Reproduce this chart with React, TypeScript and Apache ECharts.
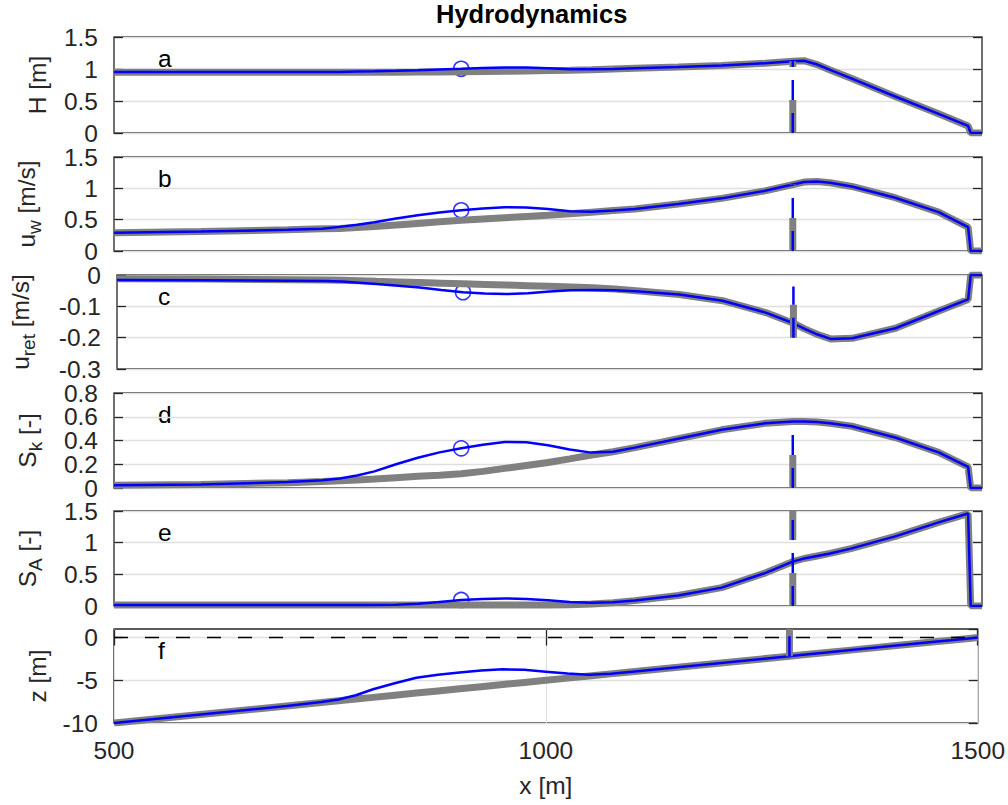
import React, { useEffect, useRef } from 'react';
import * as echarts from 'echarts';

// cross-shore positions [m]
const X = [500, 600, 700, 740, 760, 780, 800, 825, 850, 875, 900, 925, 950, 975, 1000, 1025, 1050, 1075, 1100, 1150, 1200, 1250, 1282, 1295, 1310, 1325, 1350, 1400, 1450, 1484, 1487, 1500];

// a: wave height H [m]
const H_ref = [0.95, 0.95, 0.95, 0.95, 0.95, 0.95, 0.95, 0.95, 0.952, 0.955, 0.957, 0.96, 0.963, 0.968, 0.975, 0.982, 0.99, 1.0, 1.01, 1.03, 1.055, 1.09, 1.12, 1.13, 1.07, 0.985, 0.85, 0.57, 0.3, 0.11, 0, 0];
const H_sim = [0.955, 0.955, 0.955, 0.955, 0.955, 0.96, 0.965, 0.972, 0.982, 0.993, 1.003, 1.015, 1.025, 1.022, 1.01, 0.998, 0.995, 1.0, 1.01, 1.03, 1.055, 1.09, 1.12, 1.13, 1.07, 0.985, 0.85, 0.57, 0.3, 0.11, 0, 0];
// b: orbital velocity u_w [m/s]
const UW_ref = [0.29, 0.31, 0.34, 0.355, 0.36, 0.375, 0.39, 0.415, 0.44, 0.465, 0.49, 0.51, 0.53, 0.55, 0.57, 0.595, 0.62, 0.645, 0.67, 0.75, 0.84, 0.96, 1.06, 1.1, 1.11, 1.09, 1.03, 0.85, 0.62, 0.38, 0, 0];
const UW_sim = [0.29, 0.31, 0.34, 0.355, 0.385, 0.42, 0.46, 0.52, 0.57, 0.615, 0.65, 0.68, 0.7, 0.695, 0.67, 0.635, 0.625, 0.645, 0.67, 0.75, 0.84, 0.96, 1.06, 1.1, 1.11, 1.09, 1.03, 0.85, 0.62, 0.38, 0, 0];
// c: return flow u_ret [m/s]
const UR_ref = [-0.012, -0.013, -0.015, -0.016, -0.017, -0.018, -0.02, -0.022, -0.024, -0.026, -0.028, -0.03, -0.032, -0.034, -0.036, -0.038, -0.041, -0.045, -0.05, -0.062, -0.082, -0.12, -0.154, -0.172, -0.19, -0.204, -0.202, -0.17, -0.115, -0.078, 0, 0];
const UR_sim = [-0.016, -0.017, -0.018, -0.019, -0.021, -0.025, -0.029, -0.034, -0.04, -0.048, -0.055, -0.059, -0.061, -0.058, -0.053, -0.049, -0.048, -0.049, -0.052, -0.062, -0.082, -0.12, -0.154, -0.172, -0.19, -0.204, -0.202, -0.17, -0.115, -0.078, 0, 0];
// d: skewness S_k [-]
const SK_ref = [0.023, 0.03, 0.045, 0.055, 0.062, 0.068, 0.075, 0.087, 0.098, 0.108, 0.12, 0.14, 0.165, 0.19, 0.215, 0.245, 0.278, 0.305, 0.34, 0.415, 0.49, 0.545, 0.56, 0.56, 0.555, 0.545, 0.52, 0.425, 0.3, 0.178, 0, 0];
const SK_sim = [0.023, 0.03, 0.05, 0.065, 0.08, 0.105, 0.14, 0.2, 0.255, 0.3, 0.334, 0.365, 0.388, 0.385, 0.36, 0.325, 0.298, 0.305, 0.34, 0.415, 0.49, 0.545, 0.56, 0.56, 0.555, 0.545, 0.52, 0.425, 0.3, 0.178, 0, 0];
// e: asymmetry S_A [-]
const SA_ref = [0.015, 0.015, 0.015, 0.015, 0.015, 0.015, 0.015, 0.015, 0.015, 0.015, 0.015, 0.015, 0.015, 0.015, 0.015, 0.02, 0.03, 0.05, 0.085, 0.165, 0.29, 0.52, 0.7, 0.75, 0.79, 0.83, 0.91, 1.1, 1.32, 1.46, 0, 0];
const SA_sim = [0.016, 0.016, 0.016, 0.016, 0.016, 0.016, 0.016, 0.02, 0.035, 0.065, 0.095, 0.112, 0.12, 0.112, 0.09, 0.065, 0.052, 0.06, 0.088, 0.165, 0.29, 0.52, 0.7, 0.75, 0.79, 0.83, 0.91, 1.1, 1.32, 1.46, 0, 0];
// f: bed level z [m]
const Z_ref = [-10, -9, -8, -7.6, -7.4, -7.2, -7, -6.75, -6.5, -6.25, -6, -5.75, -5.5, -5.25, -5, -4.75, -4.5, -4.25, -4, -3.5, -3, -2.5, -2.18, -2.05, -1.9, -1.75, -1.5, -1, -0.5, -0.16, -0.13, 0];
const Z_sim = [-10, -9, -8, -7.55, -7.25, -6.75, -6.05, -5.35, -4.7, -4.35, -4.1, -3.85, -3.72, -3.78, -4.0, -4.22, -4.35, -4.25, -4, -3.5, -3, -2.5, -2.18, -2.05, -1.9, -1.75, -1.5, -1, -0.5, -0.16, -0.13, 0];

const REF = [H_ref, UW_ref, UR_ref, SK_ref, SA_ref, Z_ref];
const SIM = [H_sim, UW_sim, UR_sim, SK_sim, SA_sim, Z_sim];

// marker (circle) on the simulated curve
const MARK_X = 900;
const MARK_Y = [1.003, 0.65, -0.055, 0.334, 0.095];
// vertical dashed marker
const BAR_X = 1282;
const BAR_LO = [0, 0, -0.2, 0, 0, -2.18];
const BAR_HI = [1.12, 1.06, -0.037, 0.55, 1.5, 1];

// y axes: ranges and tick labels
const Y_MIN = [0, 0, -0.3, 0, 0, -10];
const Y_MAX = [1.5, 1.5, 0, 0.8, 1.5, 1];
const Y_INT = [0.5, 0.5, 0.1, 0.2, 0.5, 5];
const Y_TICKS = [
  [0, 0.5, 1, 1.5],
  [0, 0.5, 1, 1.5],
  [-0.3, -0.2, -0.1, 0],
  [0, 0.2, 0.4, 0.6, 0.8],
  [0, 0.5, 1, 1.5],
  [-10, -5, 0],
];
const X_MIN = 500;
const X_MAX = 1500;
const X_INT = 500;
const X_TICKS = [500, 1000, 1500];

const LETTERS = ['a', 'b', 'c', 'd', 'e', 'f'];
const Y_NAMES = [
  'H [m]',
  '{n|u}{s|w}{sp| }{n|[m/s]}',
  '{n|u}{s|ret}{sp| }{n|[m/s]}',
  '{n|S}{s|k}{sp| }{n|[-]}',
  '{n|S}{s|A}{sp| }{n|[-]}',
  'z [m]',
];
const TITLE = 'Hydrodynamics';
const X_NAME = 'x [m]';

// layout
const GRID_LEFT = 114;
const GRID_W = 868;
const GRID_TOP = [37, 157, 275, 393, 511, 629];
const GRID_H = [96, 94, 94, 95, 95, 94];
const NAME_GAP = [64, 70, 79, 69, 69, 64];

const FONT = 'Liberation Sans, Arial, Helvetica, sans-serif';
const AX = '#262626';
const FS = 24.5;

const fmt = (v: number) => String(Math.round(v * 1000) / 1000);

export default function App() {
  const ref = useRef<HTMLDivElement>(null);
  useEffect(() => {
    if (!ref.current) return;
    const chart = echarts.init(ref.current, undefined, { renderer: 'svg' });
    const grids: any[] = [];
    const xAxes: any[] = [];
    const yAxes: any[] = [];
    const extraY: any[] = [];
    const series: any[] = [];
    const graphics: any[] = [];
    const rich = {
      n: { fontSize: FS, fontFamily: FONT, color: AX, lineHeight: 25, verticalAlign: 'top' },
      sp: { fontSize: FS, fontFamily: FONT, color: AX, lineHeight: 30, verticalAlign: 'top' },
      s: { fontSize: 19, fontFamily: FONT, color: AX, lineHeight: 19, verticalAlign: 'bottom' },
    };
    const labelBase = {
      margin: 16, color: AX, fontSize: FS, fontFamily: FONT,
      formatter: fmt, hideOverlap: false, interval: 0,
      showMinLabel: true, showMaxLabel: true,
    };
    for (let i = 0; i < 6; i++) {
      const last = i === 5;
      // tick labels split in two alternating sets so that dense labels are all kept
      const evenTicks = Y_TICKS[i].filter((_, k) => k % 2 === 0);
      const oddTicks = Y_TICKS[i].filter((_, k) => k % 2 === 1);
      grids.push({
        left: GRID_LEFT, width: GRID_W, top: GRID_TOP[i], height: GRID_H[i],
        show: true, borderColor: AX, borderWidth: 1.3, backgroundColor: '#fff',
      });
      xAxes.push({
        type: 'value', gridIndex: i, min: X_MIN, max: X_MAX, interval: X_INT,
        position: 'bottom',
        axisLine: { show: false },
        axisTick: { show: last, inside: true, length: 8, lineStyle: { color: AX, width: 1.3 } },
        axisLabel: { ...labelBase, show: last, margin: 15, customValues: X_TICKS },
        splitLine: { show: last, lineStyle: { color: '#dfdfdf', width: 1 } },
        name: last ? X_NAME : '',
        nameLocation: 'middle', nameGap: 50,
        nameTextStyle: { color: AX, fontSize: FS, fontFamily: FONT },
      });
      yAxes.push({
        type: 'value', gridIndex: i, min: Y_MIN[i], max: Y_MAX[i], interval: Y_INT[i],
        position: 'left',
        axisLine: { show: false },
        axisTick: { show: true, inside: true, length: 9, lineStyle: { color: AX, width: 1.3 }, customValues: Y_TICKS[i] },
        axisLabel: { ...labelBase, customValues: evenTicks },
        splitLine: { show: true, lineStyle: { color: '#dfdfdf', width: 1.3 } },
        name: Y_NAMES[i], nameLocation: 'middle', nameRotate: 90, nameGap: NAME_GAP[i],
        nameMoveOverlap: false,
        nameTextStyle: { color: AX, fontSize: FS, fontFamily: FONT, lineHeight: 25, rich },
      });
      extraY.push({
        type: 'value', gridIndex: i, min: Y_MIN[i], max: Y_MAX[i], interval: Y_INT[i],
        position: 'left', offset: 0,
        axisLine: { show: false }, axisTick: { show: false }, splitLine: { show: false },
        axisLabel: { ...labelBase, show: oddTicks.length > 0, customValues: oddTicks },
      });
      const xi = i, yi = i;
      series.push({
        type: 'line', xAxisIndex: xi, yAxisIndex: yi, symbol: 'none', silent: true,
        data: X.map((x, k) => [x, REF[i][k]]),
        lineStyle: { color: '#808080', width: 7 },
      });
      series.push({
        type: 'line', xAxisIndex: xi, yAxisIndex: yi, symbol: 'none', silent: true,
        data: X.map((x, k) => [x, SIM[i][k]]),
        lineStyle: { color: '#0000ff', width: 2.5 },
      });
      if (last) {
        series.push({
          type: 'line', xAxisIndex: xi, yAxisIndex: yi, symbol: 'none', silent: true,
          data: [[X_MIN, 0], [X_MAX, 0]],
          lineStyle: { color: '#000', width: 1.5, type: [14, 17] },
        });
      }
      series.push({
        type: 'line', xAxisIndex: xi, yAxisIndex: yi, symbol: 'none', silent: true,
        data: [[BAR_X, BAR_LO[i]], [BAR_X, BAR_HI[i]]],
        lineStyle: { color: '#808080', width: 7, type: [33, 33], cap: 'butt' },
      });
      series.push({
        type: 'line', xAxisIndex: xi, yAxisIndex: yi, symbol: 'none', silent: true,
        data: [[BAR_X, BAR_LO[i]], [BAR_X, BAR_HI[i]]],
        lineStyle: { color: '#0000ff', width: 2.5, type: [20, 13], cap: 'butt' },
      });
      if (!last) {
        series.push({
          type: 'scatter', xAxisIndex: xi, yAxisIndex: yi, silent: true,
          data: [[MARK_X, MARK_Y[i]]], symbol: 'circle', symbolSize: 15,
          itemStyle: { color: 'rgba(0,0,0,0)', borderColor: '#0000ff', borderWidth: 1.6 },
        });
      }
      graphics.push({
        type: 'text', x: 158, y: GRID_TOP[i] + 21.5,
        style: { text: LETTERS[i], fontSize: FS, fontFamily: FONT, fill: '#000', verticalAlign: 'middle', align: 'left' },
      });
    }
    // right-hand y ticks
    for (let i = 0; i < 6; i++) {
      yAxes.push({
        type: 'value', gridIndex: i, min: Y_MIN[i], max: Y_MAX[i], interval: Y_INT[i],
        position: 'right',
        axisLine: { show: false },
        axisTick: { show: true, inside: true, length: 9, lineStyle: { color: AX, width: 1.3 } },
        axisLabel: { show: false },
        splitLine: { show: false },
      });
    }
    extraY.forEach((a) => yAxes.push(a));
    // top x ticks of last panel
    xAxes.push({
      type: 'value', gridIndex: 5, min: X_MIN, max: X_MAX, interval: X_INT, position: 'top',
      axisLine: { show: false },
      axisTick: { show: true, inside: true, length: 8, lineStyle: { color: AX, width: 1.3 } },
      axisLabel: { show: false }, splitLine: { show: false },
    });

    chart.setOption({
      animation: false,
      backgroundColor: '#fff',
      title: {
        text: TITLE, left: 436, top: 1, padding: 0,
        textStyle: { fontSize: 25.5, fontWeight: 'bold', fontFamily: FONT, color: '#000' },
      },
      grid: grids,
      xAxis: xAxes,
      yAxis: yAxes,
      series,
      graphic: graphics,
    });
    return () => chart.dispose();
  }, []);
  return <div ref={ref} style={{ position: 'fixed', left: 0, top: 0, width: 1008, height: 805 }} />;
}
